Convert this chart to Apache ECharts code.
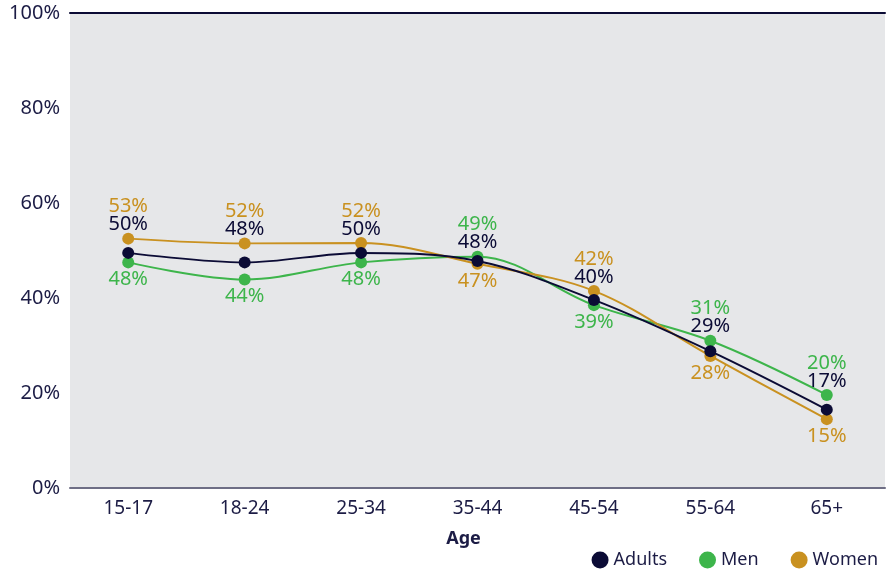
<!DOCTYPE html>
<html>
<head>
<meta charset="utf-8">
<script src="https://cdn.jsdelivr.net/npm/echarts@6/dist/echarts.min.js"></script>
<style>
  html, body { margin: 0; padding: 0; background: #fff; }
  #chart { width: 893px; height: 576px; }
</style>
</head>
<body>
<div id="chart"></div>
<script>
// data (percent)
const ageGroups = ["15-17", "18-24", "25-34", "35-44", "45-54", "55-64", "65+"];
const adults = [49.5, 47.5, 49.5, 47.8, 39.6, 28.8, 16.5];
const men = [47.5, 43.9, 47.5, 48.7, 38.5, 31.0, 19.6];
const women = [52.5, 51.5, 51.6, 47.2, 41.5, 27.8, 14.5];
const yTicks = [0, 20, 40, 60, 80, 100];

const FONT = "Noto Sans";
const navy = "#0b0b35";
const green = "#3db54b";
const gold = "#c99120";

const gridTop = 13, gridBottom = 88;
const pxPerPct = (576 - gridTop - gridBottom) / 100;

// labels: top-most series above adults' label, bottom-most below its point
const buildData = (vals, key) => vals.map((v, i) => {
    const hi = Math.max(men[i], women[i]);
    if (key === "adults") {
        return {
            value: v,
            label: { position: "top", distance: -2, offset: [0, -(hi - v) * pxPerPct] },
        };
    }
    const isTop = v === hi;
    return {
        value: v,
        label: isTop
            ? { position: "top", distance: 16 }
            : { position: "bottom", distance: 1 },
    };
});

const mkSeries = (name, vals, key, color) => ({
    name: name,
    type: "line",
    smooth: 0.35,
    symbol: "circle",
    symbolSize: 12,
    z: key === "adults" ? 5 : 3,
    itemStyle: { color: color },
    lineStyle: { color: color, width: 2 },
    label: {
        show: true,
        color: color,
        fontFamily: FONT,
        fontSize: 20,
        formatter: (p) => Math.round(p.value) + "%",
    },
    data: buildData(vals, key),
});

const chart = echarts.init(document.getElementById("chart"));
chart.setOption({
    animation: false,
    textStyle: { fontFamily: FONT },
    grid: {
        left: 70,
        right: 8,
        top: gridTop,
        bottom: gridBottom,
        show: true,
        backgroundColor: "#e6e7e9",
        borderWidth: 0,
    },
    legend: {
        right: 10,
        bottom: 2,
        icon: "circle",
        itemWidth: 17,
        itemHeight: 17,
        itemGap: 32,
        textStyle: { color: "#1c1c45", fontSize: 18, fontFamily: FONT },
        data: ["Adults", "Men", "Women"],
    },
    xAxis: [
        {
            type: "category",
            data: ageGroups,
            axisLine: { lineStyle: { color: "#6e6e85", width: 2 } },
            axisTick: { show: false },
            axisLabel: { color: "#1c1c45", fontSize: 19, margin: 11, fontFamily: FONT },
            name: "Age",
            nameLocation: "middle",
            nameGap: 42,
            nameTextStyle: {
                color: "#1c1c45",
                fontWeight: "bold",
                fontSize: 18,
                fontFamily: FONT,
                padding: [0, 28, 0, 0],
            },
        },
        {
            type: "category",
            data: ageGroups,
            position: "top",
            axisLine: { lineStyle: { color: navy, width: 2 } },
            axisTick: { show: false },
            axisLabel: { show: false },
        },
    ],
    yAxis: {
        type: "value",
        min: yTicks[0],
        max: yTicks[yTicks.length - 1],
        interval: yTicks[1] - yTicks[0],
        axisLine: { show: false },
        axisTick: { show: false },
        splitLine: { show: false },
        axisLabel: {
            color: "#1c1c45",
            fontSize: 20,
            margin: 10,
            fontFamily: FONT,
            formatter: "{value}%",
        },
    },
    series: [
        mkSeries("Men", men, "men", green),
        mkSeries("Women", women, "women", gold),
        mkSeries("Adults", adults, "adults", navy),
    ],
});
</script>
</body>
</html>
